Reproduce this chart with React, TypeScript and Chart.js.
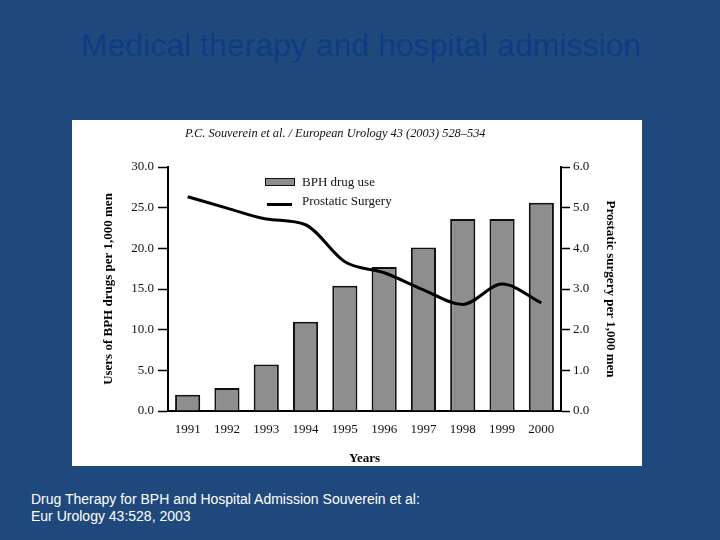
import React, { useEffect, useRef } from 'react';
import { Chart, registerables } from 'chart.js';

Chart.register(...registerables);

const years = ['1991', '1992', '1993', '1994', '1995', '1996', '1997', '1998', '1999', '2000'];
const bphDrugUse = [2.0, 2.84, 5.72, 10.97, 15.4, 17.7, 20.1, 23.6, 23.6, 25.6];
const prostaticSurgery = [5.27, 4.99, 4.72, 4.58, 3.67, 3.4, 2.98, 2.62, 3.12, 2.66];
const leftTicksMax = 30;
const rightTicksMax = 6;

const SERIF = '"Liberation Serif", "DejaVu Serif", serif';
const SANS = '"Liberation Sans", Arial, sans-serif';
const BAR_FILL = '#8e8e8e';

export default function App() {
  const canvasRef = useRef<HTMLCanvasElement | null>(null);

  useEffect(() => {
    const canvas = canvasRef.current;
    if (!canvas) return;
    const tickFont = { family: SERIF, size: 13 };
    const titleFont = { family: SERIF, size: 13, weight: 'bold' as const };
    const chart = new Chart(canvas, {
      type: 'bar',
      data: {
        labels: years,
        datasets: [
          {
            type: 'line',
            label: 'Prostatic Surgery',
            data: prostaticSurgery,
            yAxisID: 'y1',
            borderColor: '#000',
            borderWidth: 3,
            pointRadius: 0,
            cubicInterpolationMode: 'monotone',
            fill: false,
            order: 0,
          } as any,
          {
            type: 'bar',
            label: 'BPH drug use',
            data: bphDrugUse,
            yAxisID: 'y',
            backgroundColor: BAR_FILL,
            borderColor: '#111',
            borderWidth: 2,
            barPercentage: 0.64,
            categoryPercentage: 1,
            order: 1,
          },
        ],
      },
      options: {
        responsive: false,
        animation: false,
        devicePixelRatio: 1,
        layout: { padding: { left: 25, right: 20, top: 47, bottom: 0 } },
        plugins: {
          legend: { display: false },
          tooltip: { enabled: false },
          title: { display: false },
        },
        scales: {
          x: {
            offset: true,
            grid: { display: false, drawTicks: false },
            border: { display: true, color: '#000', width: 2 },
            ticks: { color: '#111', font: tickFont, padding: 11 },
            title: {
              display: true,
              text: 'Years',
              color: '#000',
              font: titleFont,
              padding: { top: 0, bottom: 0 },
            },
            afterFit: (s: any) => {
              s.height = 55;
            },
          },
          y: {
            position: 'left',
            min: 0,
            max: leftTicksMax,
            ticks: {
              stepSize: 5,
              color: '#111',
              font: tickFont,
              padding: 4,
              callback: (v: any) => Number(v).toFixed(1),
            },
            grid: {
              drawOnChartArea: false,
              drawTicks: true,
              tickLength: 10,
              tickColor: '#000',
              tickWidth: 1.5,
            },
            border: { display: true, color: '#000', width: 2 },
            title: {
              display: true,
              text: 'Users of BPH drugs per 1,000 men',
              color: '#000',
              font: titleFont,
              padding: { top: 4, bottom: 4 },
            },
            afterFit: (s: any) => {
              s.width = 71;
            },
          },
          y1: {
            position: 'right',
            min: 0,
            max: rightTicksMax,
            ticks: {
              stepSize: 1,
              color: '#111',
              font: tickFont,
              padding: 3,
              callback: (v: any) => Number(v).toFixed(1),
            },
            grid: {
              drawOnChartArea: false,
              drawTicks: true,
              tickLength: 9,
              tickColor: '#000',
              tickWidth: 1.5,
            },
            border: { display: true, color: '#000', width: 2 },
            title: {
              display: true,
              text: 'Prostatic surgery per 1,000 men',
              color: '#000',
              font: titleFont,
              padding: { top: 4, bottom: 4 },
            },
            afterFit: (s: any) => {
              s.width = 61;
            },
          },
        },
      } as any,
    });
    return () => chart.destroy();
  }, []);

  return (
    <div
      style={{
        position: 'fixed',
        left: 0,
        top: 0,
        width: 720,
        height: 540,
        background: '#1f497d',
        overflow: 'hidden',
      }}
    >
      <div
        style={{
          position: 'absolute',
          left: 0,
          top: 28.5,
          width: 722,
          textAlign: 'center',
          fontFamily: SANS,
          fontSize: 32,
          lineHeight: '32px',
          color: '#0c3d84',
          whiteSpace: 'nowrap',
        }}
      >
        Medical therapy and hospital admission
      </div>

      <div
        style={{
          position: 'absolute',
          left: 72,
          top: 120,
          width: 570,
          height: 346,
          background: '#ffffff',
        }}
      >
        <canvas ref={canvasRef} width={570} height={346} style={{ display: 'block' }} />
        <div
          style={{
            position: 'absolute',
            left: 113,
            top: 5.5,
            fontFamily: SERIF,
            fontStyle: 'italic',
            fontSize: 12.4,
            lineHeight: '15px',
            color: '#111',
            whiteSpace: 'nowrap',
          }}
        >
          P.C. Souverein et al. / European Urology 43 (2003) 528–534
        </div>
        <div
          style={{
            position: 'absolute',
            left: 193,
            top: 57.5,
            width: 30,
            height: 8.5,
            boxSizing: 'border-box',
            background: BAR_FILL,
            border: '1.5px solid #111',
          }}
        />
        <div
          style={{
            position: 'absolute',
            left: 230,
            top: 54,
            fontFamily: SERIF,
            fontSize: 13,
            lineHeight: '15px',
            color: '#111',
            whiteSpace: 'nowrap',
          }}
        >
          BPH drug use
        </div>
        <div
          style={{
            position: 'absolute',
            left: 194.5,
            top: 82.8,
            width: 25,
            height: 3,
            background: '#000',
          }}
        />
        <div
          style={{
            position: 'absolute',
            left: 230,
            top: 72.5,
            fontFamily: SERIF,
            fontSize: 13,
            lineHeight: '15px',
            color: '#111',
            whiteSpace: 'nowrap',
          }}
        >
          Prostatic Surgery
        </div>
      </div>

      <div
        style={{
          position: 'absolute',
          left: 31,
          top: 491,
          fontFamily: SANS,
          fontSize: 14,
          lineHeight: '17px',
          color: '#ffffff',
          whiteSpace: 'nowrap',
        }}
      >
        Drug Therapy for BPH and Hospital Admission Souverein et al:
        <br />
        Eur Urology 43:528, 2003
      </div>
    </div>
  );
}
